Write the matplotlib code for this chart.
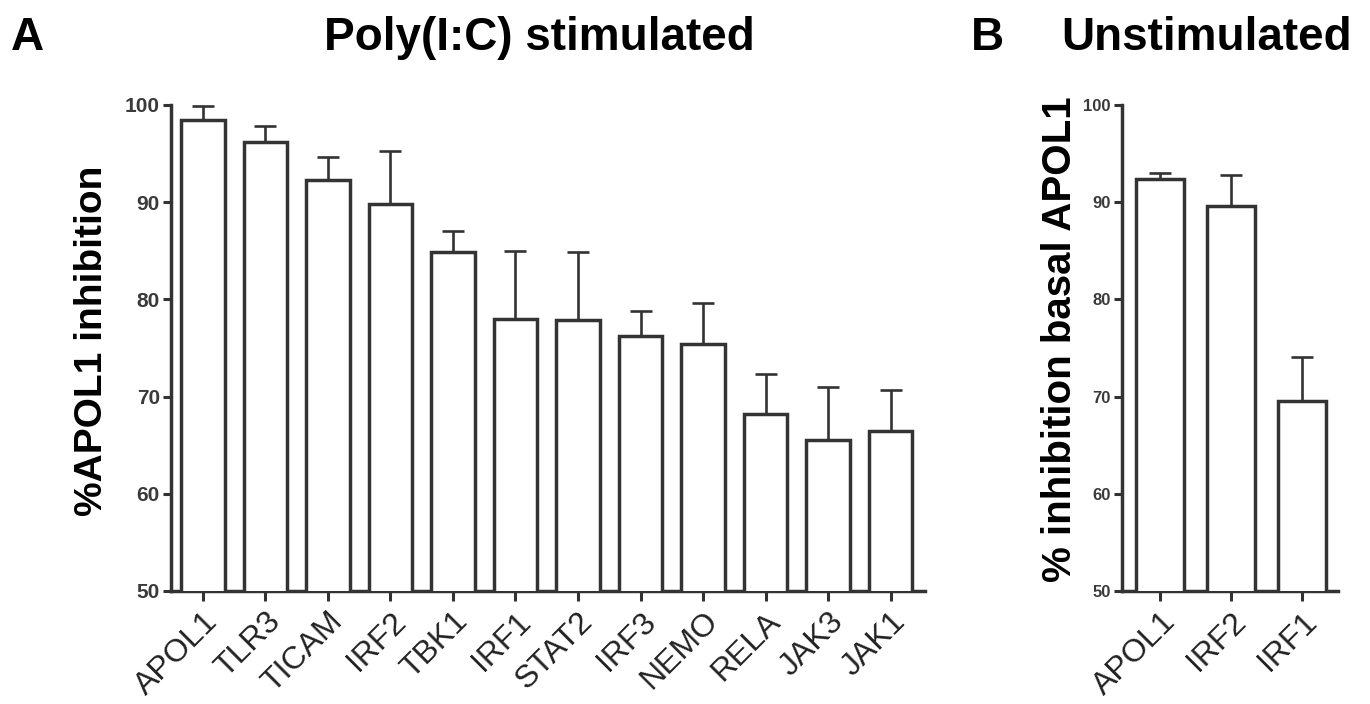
import matplotlib
matplotlib.use("Agg")
import matplotlib.pyplot as plt
import numpy as np

plt.rcParams["font.family"] = ["Liberation Sans", "DejaVu Sans"]

# panel A - Poly(I:C) stimulated
genes_a = ["APOL1", "TLR3", "TICAM", "IRF2", "TBK1", "IRF1", "STAT2",
           "IRF3", "NEMO", "RELA", "JAK3", "JAK1"]
vals_a = [98.45, 96.2, 92.3, 89.8, 84.85, 78.0, 77.85, 76.2, 75.45, 68.25, 65.55, 66.5]
err_a = [1.45, 1.6, 2.35, 5.5, 2.2, 6.95, 7.0, 2.65, 4.2, 4.1, 5.45, 4.15]

# panel B - unstimulated
genes_b = ["APOL1", "IRF2", "IRF1"]
vals_b = [92.35, 89.6, 69.5]
err_b = [0.7, 3.2, 4.6]

yticks = [50, 60, 70, 80, 90, 100]

EDGE = "#333333"
W, H = 1370, 704


def px(x, y):
    # pixel coords of the 1370x704 canvas -> figure fraction
    return x / W, 1 - y / H


def draw_panel(ax, names, vals, errs, width, tick_fs):
    x = np.arange(len(names))
    ax.bar(x, vals, width=width, bottom=0, color="white", edgecolor=EDGE,
           linewidth=2.5, zorder=3)
    ax.errorbar(x, vals, yerr=[np.zeros(len(errs)), errs], fmt="none",
                ecolor=EDGE, elinewidth=1.9, capsize=8, capthick=1.9, zorder=2)
    ax.set_ylim(50, 100)
    ax.set_yticks(yticks)
    ax.set_xticks(x)
    ax.set_xticklabels(names, rotation=45, ha="right", rotation_mode="anchor",
                       fontsize=23, color="#222222")
    for lab in ax.get_yticklabels():
        lab.set_fontsize(tick_fs)
        lab.set_fontweight("bold")
        lab.set_color("#3a3a3a")
    for s in ["top", "right"]:
        ax.spines[s].set_visible(False)
    for s in ["left", "bottom"]:
        ax.spines[s].set_linewidth(2.5)
        ax.spines[s].set_color(EDGE)
    ax.tick_params(axis="y", length=6, width=2.2, color=EDGE, pad=2)
    ax.tick_params(axis="x", length=7, width=2.2, color=EDGE, pad=4)


fig = plt.figure(figsize=(13.7, 7.04), dpi=100)

# axes placed by pixel positions of the reference
axA = fig.add_axes([171 / W, 1 - 591 / H, (925 - 171) / W, (591 - 105) / H])
draw_panel(axA, genes_a, vals_a, err_a, 0.7, 15)
axA.set_xlim(-0.51, 11.55)

axB = fig.add_axes([1122 / W, 1 - 591 / H, (1338 - 1122) / W, (591 - 105) / H])
draw_panel(axB, genes_b, vals_b, err_b, 0.68, 12)
axB.set_xlim(-0.54, 2.51)

# y labels
fig.text(*px(92, 341), "%APOL1 inhibition", rotation=90, ha="center",
         va="center", fontsize=28, fontweight="bold")
fig.text(*px(1060, 339), "% inhibition basal APOL1", rotation=90, ha="center",
         va="center", fontsize=29, fontweight="bold")

# panel letters and titles
fig.text(*px(11, 50), "A", ha="left", va="baseline", fontsize=33, fontweight="bold")
fig.text(*px(539, 50), "Poly(I:C) stimulated", ha="center", va="baseline",
         fontsize=33, fontweight="bold")
fig.text(*px(971, 50), "B", ha="left", va="baseline", fontsize=33, fontweight="bold")
fig.text(*px(1207, 50), "Unstimulated", ha="center", va="baseline",
         fontsize=33, fontweight="bold")

fig.savefig("out.png", dpi=100, facecolor="white")
